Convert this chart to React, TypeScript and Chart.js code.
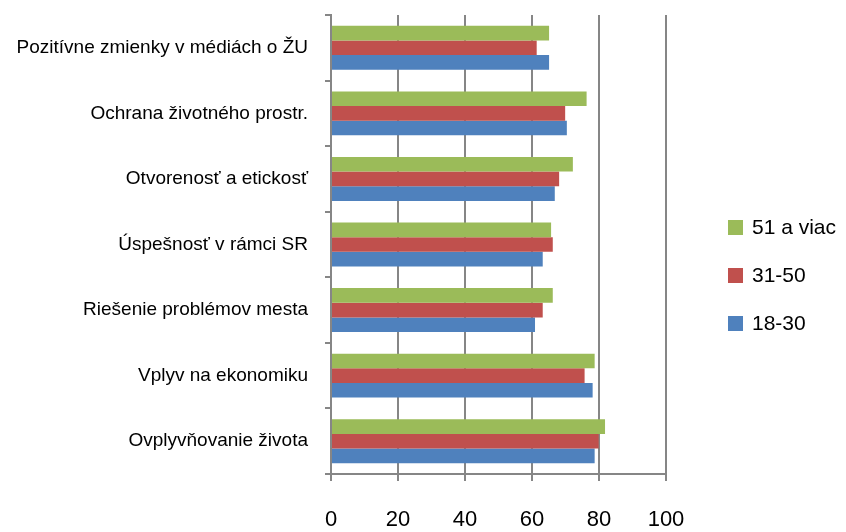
import React, { useEffect, useRef } from "react";
import { Chart, registerables } from "chart.js";

Chart.register(...registerables);

const categories = [
  "Pozitívne zmienky v médiách o ŽU",
  "Ochrana životného prostr.",
  "Otvorenosť a etickosť",
  "Úspešnosť v rámci SR",
  "Riešenie problémov mesta",
  "Vplyv na ekonomiku",
  "Ovplyvňovanie života",
];

const seriesNames = ["51 a viac", "31-50", "18-30"];
const seriesColors = ["#9BBB59", "#C0504D", "#4F81BD"];

const valuesOlder = [65.1, 76.3, 72.2, 65.7, 66.2, 78.7, 81.8];
const valuesMiddle = [61.4, 69.9, 68.1, 66.2, 63.2, 75.7, 79.9];
const valuesYoung = [65.1, 70.4, 66.8, 63.2, 60.9, 78.1, 78.7];

const xTicks = [0, 20, 40, 60, 80, 100];

const FONT = "'Liberation Sans', Arial, sans-serif";

export default function App() {
  const ref = useRef<HTMLCanvasElement | null>(null);

  useEffect(() => {
    if (!ref.current) return;
    const allValues = [valuesOlder, valuesMiddle, valuesYoung];
    const chart = new Chart(ref.current, {
      type: "bar",
      data: {
        labels: categories,
        datasets: seriesNames.map((name, i) => ({
          label: name,
          data: allValues[i],
          backgroundColor: seriesColors[i],
          borderWidth: 0,
          categoryPercentage: 0.67,
          barPercentage: 1.0,
        })),
      },
      options: {
        indexAxis: "y",
        animation: false,
        responsive: true,
        maintainAspectRatio: false,
        layout: { padding: { top: 15, right: 180, left: 0, bottom: 0 } },
        plugins: {
          legend: { display: false },
          tooltip: { enabled: false },
        },
        scales: {
          x: {
            min: 0,
            max: 100,
            afterBuildTicks: (scale: any) => {
              scale.ticks = xTicks.map((v) => ({ value: v }));
            },
            afterFit: (scale: any) => {
              scale.height = 58;
            },
            grid: {
              color: "#868686",
              lineWidth: 2,
              drawTicks: true,
              tickLength: 7,
            },
            border: { display: true, color: "#868686", width: 2 },
            ticks: {
              color: "#000",
              padding: 26,
              font: { family: FONT, size: 22 },
            },
          },
          y: {
            afterFit: (scale: any) => {
              scale.width = 331;
              scale.paddingTop = 0;
              scale.paddingBottom = 0;
            },
            grid: {
              display: true,
              drawOnChartArea: false,
              drawTicks: true,
              tickLength: 6,
              color: "#868686",
              lineWidth: 2,
            },
            border: { display: true, color: "#868686", width: 2 },
            ticks: {
              color: "#000",
              padding: 17,
              font: { family: FONT, size: 19 },
            },
          },
        },
      },
    });
    return () => chart.destroy();
  }, []);

  return (
    <div
      style={{
        position: "fixed",
        left: 0,
        top: 0,
        width: 846,
        height: 532,
        background: "#fff",
      }}
    >
      <canvas ref={ref} />
      <div
        style={{
          position: "absolute",
          left: 728,
          top: 203,
          fontFamily: FONT,
          fontSize: 21,
          color: "#000",
        }}
      >
        {seriesNames.map((name, i) => (
          <div
            key={name}
            style={{ display: "flex", alignItems: "center", height: 48 }}
          >
            <span
              style={{
                display: "inline-block",
                width: 15,
                height: 15,
                background: seriesColors[i],
                marginRight: 9,
              }}
            />
            <span>{name}</span>
          </div>
        ))}
      </div>
    </div>
  );
}
